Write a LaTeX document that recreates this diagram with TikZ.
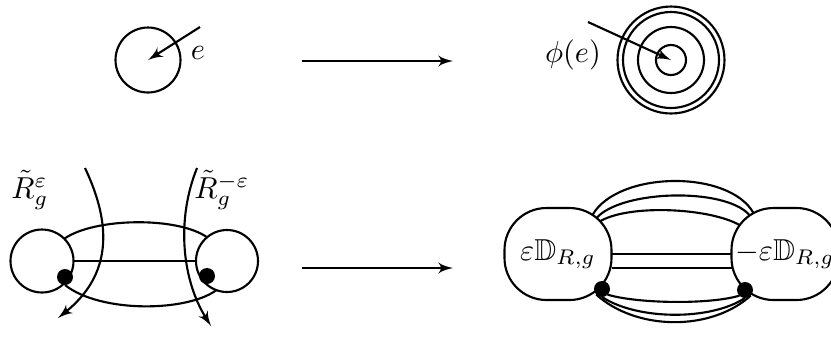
\documentclass[tikz,border=0pt]{standalone}
\usepackage{amssymb}
\usetikzlibrary{arrows}
\newdimen\px \px=0.33pt
\def\De{\varepsilon\mathbb{D}_{R,g}}
\def\Rt{\tilde{R}_g}

\begin{document}
\begin{tikzpicture}[x=\px,y=-\px,>=latex',line width=0.7pt,inner sep=0pt,outer sep=0pt,
    disk/.style={circle,draw,minimum size=#1},
    blackdot/.style={circle,fill,minimum size=16\px},
    blob/.style={rectangle,draw,rounded corners=42\px,minimum width=107\px,minimum height=92\px}]
    \useasboundingbox (0,0) rectangle (831,336);

    % top row
    \begin{scope}
        \node[disk=65\px] (C) at (148,60) {};
        \coordinate (Ce) at (200,27);
        \draw[->] (Ce) -- (C.center);
        \node (e) at (198,53) {$e$};

        \coordinate (a1) at (302,61);
        \coordinate (a2) at (453,61);
        \draw[->] (a1) -- (a2);

        \node[disk=107\px] (T4) at (671,60) {};
        \node[disk=96\px] (T3) at (671,60) {};
        \node[disk=66\px] (T2) at (671,60) {};
        \node[disk=30\px] (T1) at (671,60) {};
        \coordinate (Te) at (588,22);
        \draw[->] (Te) -- (T1.center);
        \node (phi) at (573,55) {$\phi(e)$};
    \end{scope}

    % bottom row, left
    \begin{scope}
        \node[disk=63\px] (L) at (42,261) {};
        \node[disk=62\px] (R) at (227,261) {};
        \node[blackdot] (dL) at (65,277) {};
        \node[blackdot] (dR) at (207,276) {};
        \draw (L.east) -- (R.west);
        \draw (L.45) .. controls +(30,-21) and +(-30,-21) .. (R.130);
        \draw (dL.south) .. controls +(35,28) and +(-30,22) .. (R.-110);

        \coordinate (p1) at (85,168);
        \coordinate (p2) at (58,318);
        \draw[->] (p1) .. controls (112,225) and (112,275) .. (p2);
        \coordinate (q1) at (197,168);
        \coordinate (q2) at (211,326);
        \draw[->] (q1) .. controls (176,220) and (182,280) .. (q2);
        \node (Rl) at (30,190) {$\Rt^{\varepsilon}$};
        \node (Rr) at (222,190) {$\Rt^{-\varepsilon}$};
    \end{scope}

    \coordinate (b1) at (302,268);
    \coordinate (b2) at (453,268);
    \draw[->] (b1) -- (b2);

    % bottom row, right
    \begin{scope}
        \node[blob] (DL) at (558,254) {$\De$};
        \node[blob] (DR) at (785,254) {$-\De$};
        \node[blackdot] (eL) at (602,289) {};
        \node[blackdot] (eR) at (745,290) {};
        \draw (DL.east) -- (DR.west);
        \draw ([yshift=-14\px]DL.east) -- ([yshift=-14\px]DR.west);

        \draw ([xshift=-19\px,yshift=-7\px]DL.north east) .. controls +(25,-44) and +(-25,-44) .. ([xshift=22\px,yshift=-5\px]DR.north west);
        \draw ([xshift=-15\px,yshift=-10\px]DL.north east) .. controls +(25,-28) and +(-25,-28) .. ([xshift=18\px,yshift=-7\px]DR.north west);
        \draw ([xshift=-11\px,yshift=-13\px]DL.north east) .. controls +(30,-17) and +(-30,-17) .. ([xshift=8\px,yshift=-17\px]DR.north west);

        \draw (eL.south east) .. controls +(30,9) and +(-30,9) .. (eR.south west);
        \draw (eL.south) .. controls +(35,23) and +(-35,23) .. (eR.south);
        \draw (eL.south west) .. controls +(40,36) and +(-40,36) .. (eR.south east);
    \end{scope}

\end{tikzpicture}
\end{document}
